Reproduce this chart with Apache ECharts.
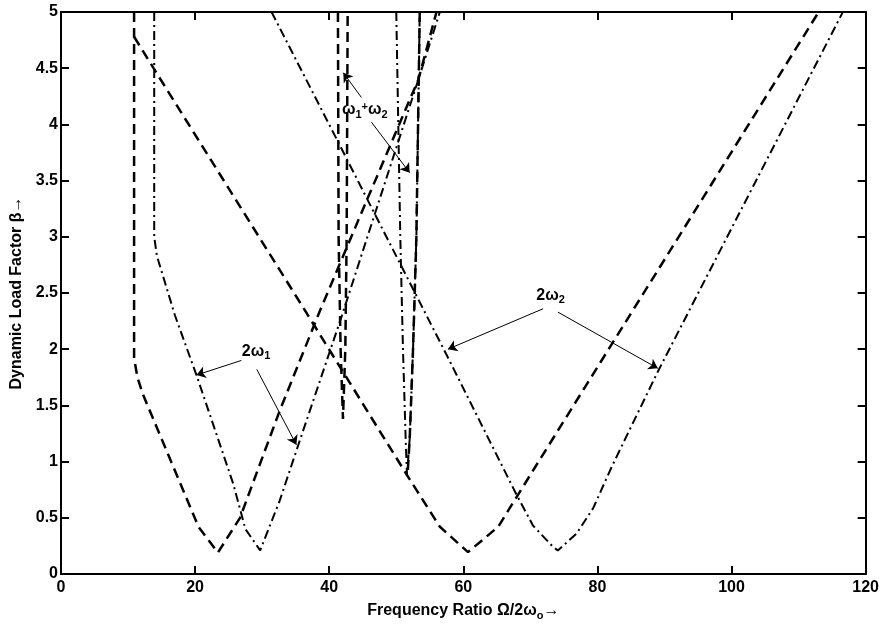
<!DOCTYPE html>
<html>
<head>
<meta charset="utf-8">
<script src="https://cdn.jsdelivr.net/npm/echarts@6/dist/echarts.min.js"></script>
<style>
  html, body { margin: 0; padding: 0; background: #fff; }
  #chart { width: 882px; height: 626px; }
</style>
</head>
<body>
<div id="chart"></div>
<script>
// boundaries of the instability regions: [frequency ratio, beta]
var dashed2w1 = [[10.9, 5], [10.9, 1.92], [11.4, 1.75], [12.2, 1.6], [20.5, 0.42], [23.4, 0.19],
  [26.7, 0.5], [32.6, 1.45], [38.6, 2.34], [46, 3.38], [53.3, 4.4], [56.0, 5]];
var dashed2w2 = [[10.9, 4.78], [13.8, 4.5], [35.6, 2.42], [51.6, 0.88], [56.5, 0.42], [60.7, 0.195],
  [65.2, 0.42], [70.7, 0.95], [96.3, 3.4], [113, 5]];
var dashedW1W2 = [[41.3, 5], [41.4, 3], [41.7, 2], [42.05, 1.38], [42.4, 2], [42.6, 3], [42.75, 5]];
var dashedW1W2b = [[53.5, 5], [53.0, 3], [52.5, 2], [52.0, 1.2], [51.7, 0.9]];

var dashdot2w1 = [[13.9, 5], [13.9, 3.0], [14.3, 2.83], [17, 2.3], [20.2, 1.77], [25.7, 0.8], [27.5, 0.4],
  [29.7, 0.21], [32.6, 0.65], [35.4, 1.15], [41.9, 2.3], [47.6, 3.35], [53.3, 4.4], [56.5, 5]];
var dashdot2w2 = [[31.4, 5], [41.1, 3.87], [57.5, 1.95], [67.9, 0.71], [70.4, 0.43], [73.4, 0.24], [74.1, 0.21],
  [76.9, 0.36], [79.4, 0.59], [82.1, 0.95], [89, 1.8], [116.6, 5]];
var dashdotW1W2 = [[50.0, 5], [50.6, 3], [51.0, 2], [51.4, 1.2], [51.6, 0.88], [52.0, 1.2], [52.5, 2], [53.0, 3], [53.5, 5]];

// annotation arrows [from, to] and label anchors
var arrows = [
  [[26.9, 1.9], [20.2, 1.77]],
  [[29.2, 1.82], [35.1, 1.15]],
  [[44.8, 4.24], [42.1, 4.46]],
  [[46.3, 4.02], [52.0, 3.57]],
  [[71.9, 2.36], [57.7, 2.0]],
  [[74.1, 2.33], [89.0, 1.83]]
];
var labels = [
  {at: [29.1, 1.98], text: '2ω{s|1}'},
  {at: [45.3, 4.13], text: 'ω{s|1}{p|+}ω{s|2}'},
  {at: [73.0, 2.48], text: '2ω{s|2}'}
];

var FONT = 'Liberation Sans';
var NARROW = "'Liberation Sans Narrow', 'Liberation Sans', sans-serif";
var black = '#000';

var myChart = echarts.init(document.getElementById('chart'));

var dashed = {type: [10, 6], width: 2.5, color: black};
var dashdot = {type: [9, 4, 2, 4], width: 2, color: black};

function line(data, style) {
  return {type: 'line', data: data, symbol: 'none', silent: true, lineStyle: style, z: 3};
}

var subRich = {
  s: {fontFamily: FONT, fontWeight: 'bold', fontSize: 11, color: black, padding: [10, 0, 0, 0]},
  p: {fontFamily: FONT, fontWeight: 'bold', fontSize: 11, color: black, padding: [0, 0, 5, 0]}
};

function axisCommon(pos, showLabel) {
  return {
    type: 'value',
    position: pos,
    axisLine: {show: true, onZero: false, lineStyle: {color: black, width: 2}},
    axisTick: {show: true, inside: true, length: 8, lineStyle: {color: black, width: 2}},
    axisLabel: {show: showLabel, color: black, fontFamily: NARROW, fontWeight: 'bold', fontSize: 16},
    splitLine: {show: false}
  };
}

var xBottom = axisCommon('bottom', true);
xBottom.min = 0; xBottom.max = 120; xBottom.interval = 20;
xBottom.axisLabel.margin = 6;
xBottom.name = 'Frequency Ratio Ω/2ω{s|o}→';
xBottom.nameLocation = 'middle';
xBottom.nameGap = 26;
xBottom.nameTextStyle = {color: black, fontFamily: FONT, fontWeight: 'bold', fontSize: 16, rich: subRich};

var xTop = axisCommon('top', false);
xTop.min = 0; xTop.max = 120; xTop.interval = 20;

var yLeft = axisCommon('left', true);
yLeft.min = 0; yLeft.max = 5; yLeft.interval = 0.5;
yLeft.axisLabel.margin = 3;
yLeft.name = 'Dynamic Load Factor β→';
yLeft.nameLocation = 'middle';
yLeft.nameGap = 33;
yLeft.nameTextStyle = {color: black, fontFamily: FONT, fontWeight: 'bold', fontSize: 16};

var yRight = axisCommon('right', false);
yRight.min = 0; yRight.max = 5; yRight.interval = 0.5;

var annot = {
  type: 'line',
  data: [],
  silent: true,
  markLine: {
    silent: true,
    symbol: ['none', 'arrow'],
    symbolSize: 9,
    label: {show: false},
    lineStyle: {type: 'solid', width: 1, color: black},
    emphasis: {disabled: true},
    data: arrows.map(function (a) { return [{coord: a[0]}, {coord: a[1]}]; })
  },
  markPoint: {
    silent: true,
    symbol: 'circle',
    symbolSize: 1,
    itemStyle: {color: 'rgba(0,0,0,0)'},
    label: {show: true, position: 'inside', color: black, fontFamily: FONT, fontWeight: 'bold', fontSize: 16, rich: subRich},
    data: labels.map(function (l) {
      return {coord: l.at, label: {formatter: l.text}};
    })
  }
};

var option = {
  animation: false,
  backgroundColor: '#fff',
  grid: {left: 61, right: 16, top: 12, bottom: 49},
  xAxis: [xBottom, xTop],
  yAxis: [yLeft, yRight],
  series: [
    line(dashed2w1, dashed),
    line(dashed2w2, dashed),
    line(dashedW1W2, dashed),
    line(dashedW1W2b, dashed),
    line(dashdot2w1, dashdot),
    line(dashdot2w2, dashdot),
    line(dashdotW1W2, dashdot),
    annot
  ]
};

myChart.setOption(option);
</script>
</body>
</html>
